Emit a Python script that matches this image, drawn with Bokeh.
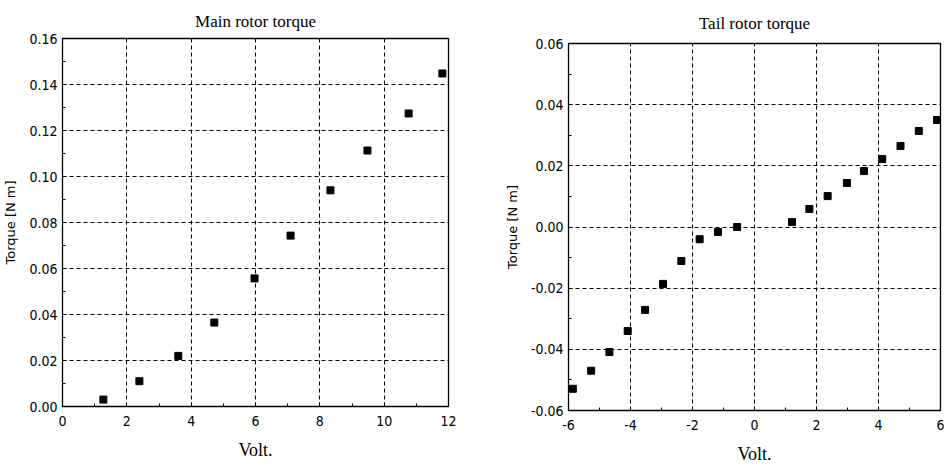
from bokeh.plotting import figure
from bokeh.layouts import row, column
from bokeh.models import Range1d, FixedTicker, PrintfTickFormatter, Spacer
from bokeh.embed import file_html
from bokeh.resources import INLINE

# ---- data ----
main_volt = [1.27, 2.39, 3.60, 4.72, 5.97, 7.09, 8.33, 9.48, 10.76, 11.81]
main_torque = [0.003, 0.011, 0.022, 0.0365, 0.0557, 0.0743, 0.094, 0.1113, 0.1274, 0.1448]

tail_volt = [-5.86, -5.27, -4.68, -4.09, -3.53, -2.95, -2.36, -1.77, -1.18, -0.56,
             1.21, 1.77, 2.36, 2.98, 3.53, 4.12, 4.71, 5.30, 5.89]
tail_torque = [-0.0529, -0.047, -0.0409, -0.034, -0.0271, -0.0186, -0.0111, -0.004, -0.0016, 0.0,
               0.0016, 0.0059, 0.0101, 0.0144, 0.0183, 0.0222, 0.0265, 0.0314, 0.035]

main_xticks = [0, 2, 4, 6, 8, 10, 12]
main_xminor = [1, 3, 5, 7, 9, 11]
main_yticks = [0.0, 0.02, 0.04, 0.06, 0.08, 0.10, 0.12, 0.14, 0.16]
main_yminor = [0.01, 0.03, 0.05, 0.07, 0.09, 0.11, 0.13, 0.15]

tail_xticks = [-6, -4, -2, 0, 2, 4, 6]
tail_xminor = [-5, -3, -1, 1, 3, 5]
tail_yticks = [-0.06, -0.04, -0.02, 0.0, 0.02, 0.04, 0.06]
tail_yminor = [-0.05, -0.03, -0.01, 0.01, 0.03, 0.05]

TICK_FONT = "'Liberation Sans Narrow', 'DejaVu Sans Condensed', 'Roboto Condensed', sans-serif"
SERIF = "Liberation Serif"


def make_fig(title, xs, ys, xr, yr, xt, xm, yt, ym, fw, fh, borders, top, title_gap):
    p = figure(frame_width=fw, frame_height=fh, output_backend="svg", toolbar_location=None,
               x_range=Range1d(*xr), y_range=Range1d(*yr),
               min_border_left=borders[0], min_border_right=borders[1],
               min_border_top=top, min_border_bottom=52)
    p.title.text = title
    p.title.align = "center"
    p.title.text_font = SERIF
    p.title.text_font_size = "17px"
    p.title.text_font_style = "normal"
    p.title.text_color = "black"
    p.title.offset = 0
    p.title.standoff = title_gap

    p.xaxis.ticker = FixedTicker(ticks=xt, minor_ticks=xm)
    p.yaxis.ticker = FixedTicker(ticks=yt, minor_ticks=ym)
    p.xaxis.formatter = PrintfTickFormatter(format="%d")
    p.yaxis.formatter = PrintfTickFormatter(format="%.2f")

    for ax in (p.xaxis[0], p.yaxis[0]):
        ax.major_tick_in = 4
        ax.major_tick_out = 0
        ax.minor_tick_in = 3
        ax.minor_tick_out = 0
        ax.axis_line_color = "black"
        ax.major_tick_line_color = "black"
        ax.minor_tick_line_color = "black"
        ax.major_label_text_font = TICK_FONT
        ax.major_label_text_font_size = "14px"
        ax.major_label_text_color = "black"
        ax.major_label_standoff = 5
    p.xaxis.major_label_standoff = 9

    p.xaxis.axis_label = "Volt."
    p.xaxis.axis_label_text_font = SERIF
    p.xaxis.axis_label_text_font_size = "18px"
    p.xaxis.axis_label_text_font_style = "normal"
    p.xaxis.axis_label_text_color = "black"
    p.xaxis.axis_label_standoff = 11

    p.yaxis.axis_label = "Torque [N m]"
    p.yaxis.axis_label_text_font = "DejaVu Sans"
    p.yaxis.axis_label_text_font_size = "13px"
    p.yaxis.axis_label_text_font_style = "normal"
    p.yaxis.axis_label_text_color = "black"
    p.yaxis.axis_label_standoff = 8

    p.grid.grid_line_color = "black"
    p.grid.grid_line_dash = "4 3"
    p.grid.grid_line_width = 1
    p.outline_line_color = "black"
    p.outline_line_width = 1.3
    p.background_fill_color = "white"
    p.border_fill_color = "white"

    p.scatter(xs, ys, marker="square", size=7, color="black")
    return p


p1 = make_fig("Main rotor torque", main_volt, main_torque, (0, 12), (0, 0.16),
              main_xticks, main_xminor, main_yticks, main_yminor,
              386, 368, (52, 32), 38, 16)
p2 = make_fig("Tail rotor torque", tail_volt, tail_torque, (-6, 6), (-0.06, 0.06),
              tail_xticks, tail_xminor, tail_yticks, tail_yminor,
              372, 367, (88, 4), 41, 21)

layout = row(p1, column(Spacer(height=1, width=10), p2, spacing=0), spacing=0)
open("out.html", "w").write(file_html(layout, INLINE))
